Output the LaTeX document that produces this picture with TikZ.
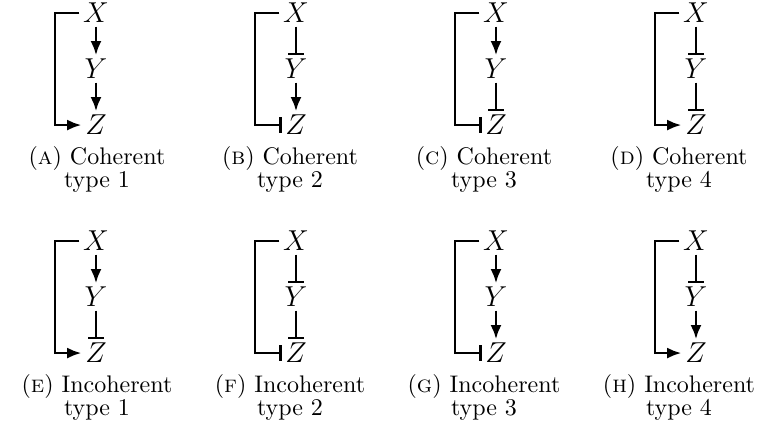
\documentclass[tikz,border=0pt]{standalone}
\usepackage{amsmath}
\usetikzlibrary{arrows.meta,positioning}

\begin{document}
\begin{tikzpicture}[x=0.4167pt,y=-0.4167pt,line width=1.15pt,node distance=12pt,
  gene/.style={inner sep=1pt,font=\large},
  act/.style={-{Latex[length=6pt,width=4.6pt]}},
  rep/.style={-{Bar[width=6.5pt]}},
  captext/.style={align=center,inner sep=0pt,font=\fontsize{10}{9.6}\selectfont}]
  \useasboundingbox (0,0) rectangle (767,446);
  \foreach \name/\cx/\cy/\px/\kind/\num/\xy/\yz/\xz in {%
      a/96/13/97/Coherent/1/act/act/act,
      b/296/13/290/Coherent/2/rep/act/rep,
      c/496/13/484/Coherent/3/act/rep/rep,
      d/696/13/679/Coherent/4/rep/rep/act,
      e/96/241/97/Incoherent/1/act/rep/act,
      f/296/241/290/Incoherent/2/rep/rep/rep,
      g/496/241/484/Incoherent/3/act/act/rep,
      h/696/241/679/Incoherent/4/rep/act/act}
  {
    \node[gene] (x\name) at (\cx,\cy) {$X$};
    \node[gene,below=of x\name] (y\name) {$Y$};
    \node[gene,below=of y\name] (z\name) {$Z$};
    \coordinate (k\name) at (\cx-41,\cy);
    \draw[\xy] (x\name) -- (y\name);
    \draw[\yz] (y\name) -- (z\name);
    \draw[\xz] (x\name.west) -- (k\name) |- (z\name.west);
    \node[captext] (c\name) at (\px,\cy+156) {(\textsc{\name}) \kind\\type \num};
  }
\end{tikzpicture}
\end{document}
